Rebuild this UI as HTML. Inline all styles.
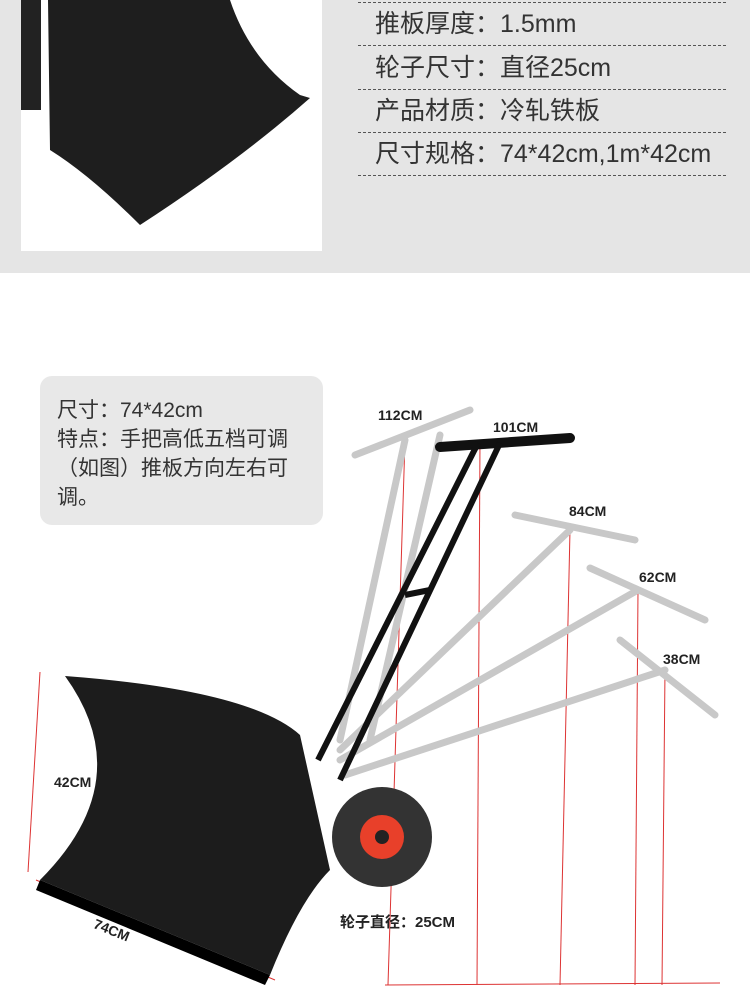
<!DOCTYPE html>
<html><head><meta charset="utf-8"><style>
body{margin:0;width:750px;height:987px;overflow:hidden;background:#fff;font-family:"Liberation Sans","Noto Sans CJK SC",sans-serif;position:relative}
.top{position:absolute;left:0;top:0;width:750px;height:273px;background:#e5e5e5}
.photo{position:absolute;left:21px;top:0;width:301px;height:251px;background:#fff}
.row{position:absolute;left:375px;font-size:25px;color:#333;line-height:30px}
.dash{position:absolute;left:358px;width:368px;border-top:1px dashed #555}
.box{position:absolute;left:40px;top:376px;width:283px;height:149px;background:#e8e8e8;border-radius:12px}
.box p{margin:0;position:absolute;left:17px;top:20px;font-size:21px;line-height:29px;color:#333;width:262px}
.lbl{position:absolute;font:bold 14px "Liberation Sans","Noto Sans CJK SC",sans-serif;color:#222}
</style></head><body>
<div class="top"></div>
<div class="photo"></div>
<svg style="position:absolute;left:0;top:0" width="750" height="987">
<path d="M48 0 L230 0 Q250 60 300 95 L310 98 Q240 160 140 225 Q90 175 50 150 Z" fill="#1e1e1e"/>
<rect x="21" y="0" width="20" height="110" fill="#222"/>
<g stroke="#d33" stroke-width="1" fill="none">
<line x1="40" y1="672" x2="28" y2="872"/><line x1="36" y1="880" x2="275" y2="980"/>
<line x1="385" y1="985" x2="720" y2="983"/>
<line x1="405" y1="440" x2="388" y2="985"/><line x1="480" y1="440" x2="477" y2="985"/>
<line x1="570" y1="530" x2="560" y2="985"/><line x1="638" y1="590" x2="635" y2="985"/>
<line x1="665" y1="670" x2="662" y2="985"/>
</g>
<g stroke="#c8c8c8" stroke-width="7" fill="none" stroke-linecap="round">
<line x1="355" y1="455" x2="470" y2="410"/><line x1="405" y1="440" x2="340" y2="740"/><line x1="440" y1="435" x2="370" y2="740"/>
<line x1="515" y1="515" x2="635" y2="540"/><line x1="570" y1="530" x2="340" y2="750"/>
<line x1="590" y1="568" x2="705" y2="620"/><line x1="638" y1="590" x2="340" y2="760"/>
<line x1="620" y1="640" x2="715" y2="715"/><line x1="665" y1="670" x2="345" y2="775"/>
</g>
<g stroke="#111" stroke-width="6" fill="none">
<line x1="440" y1="447" x2="570" y2="438" stroke-width="10" stroke-linecap="round"/>
<line x1="478" y1="443" x2="318" y2="760"/><line x1="500" y1="443" x2="340" y2="780"/>
<line x1="405" y1="595" x2="430" y2="590"/>
</g>
<path d="M65 676 Q250 690 300 735 L330 870 Q300 900 270 975 L40 880 Q140 780 65 676 Z" fill="#1c1c1c"/>
<path d="M40 880 L270 975 L265 985 L36 890 Z" fill="#000"/>
<circle cx="382" cy="837" r="50" fill="#333"/><circle cx="382" cy="837" r="22" fill="#e8402a"/><circle cx="382" cy="837" r="7" fill="#222"/>
</svg>
<div class="dash" style="top:2px"></div>
<div class="row" style="top:9px">推板厚度：1.5mm</div>
<div class="dash" style="top:45px"></div>
<div class="row" style="top:53px">轮子尺寸：直径25cm</div>
<div class="dash" style="top:89px"></div>
<div class="row" style="top:96px">产品材质：冷轧铁板</div>
<div class="dash" style="top:132px"></div>
<div class="row" style="top:139px">尺寸规格：74*42cm,1m*42cm</div>
<div class="dash" style="top:175px"></div>
<div class="box"><p>尺寸：74*42cm<br>特点：手把高低五档可调（如图）推板方向左右可调。</p></div>
<div class="lbl" style="left:378px;top:407px">112CM</div>
<div class="lbl" style="left:493px;top:419px">101CM</div>
<div class="lbl" style="left:569px;top:503px">84CM</div>
<div class="lbl" style="left:639px;top:569px">62CM</div>
<div class="lbl" style="left:663px;top:651px">38CM</div>
<div class="lbl" style="left:54px;top:774px">42CM</div>
<div class="lbl" style="left:93px;top:922px;transform:rotate(22deg)">74CM</div>
<div class="lbl" style="left:340px;top:911px;font-size:15px">轮子直径：25CM</div>
</body></html>
